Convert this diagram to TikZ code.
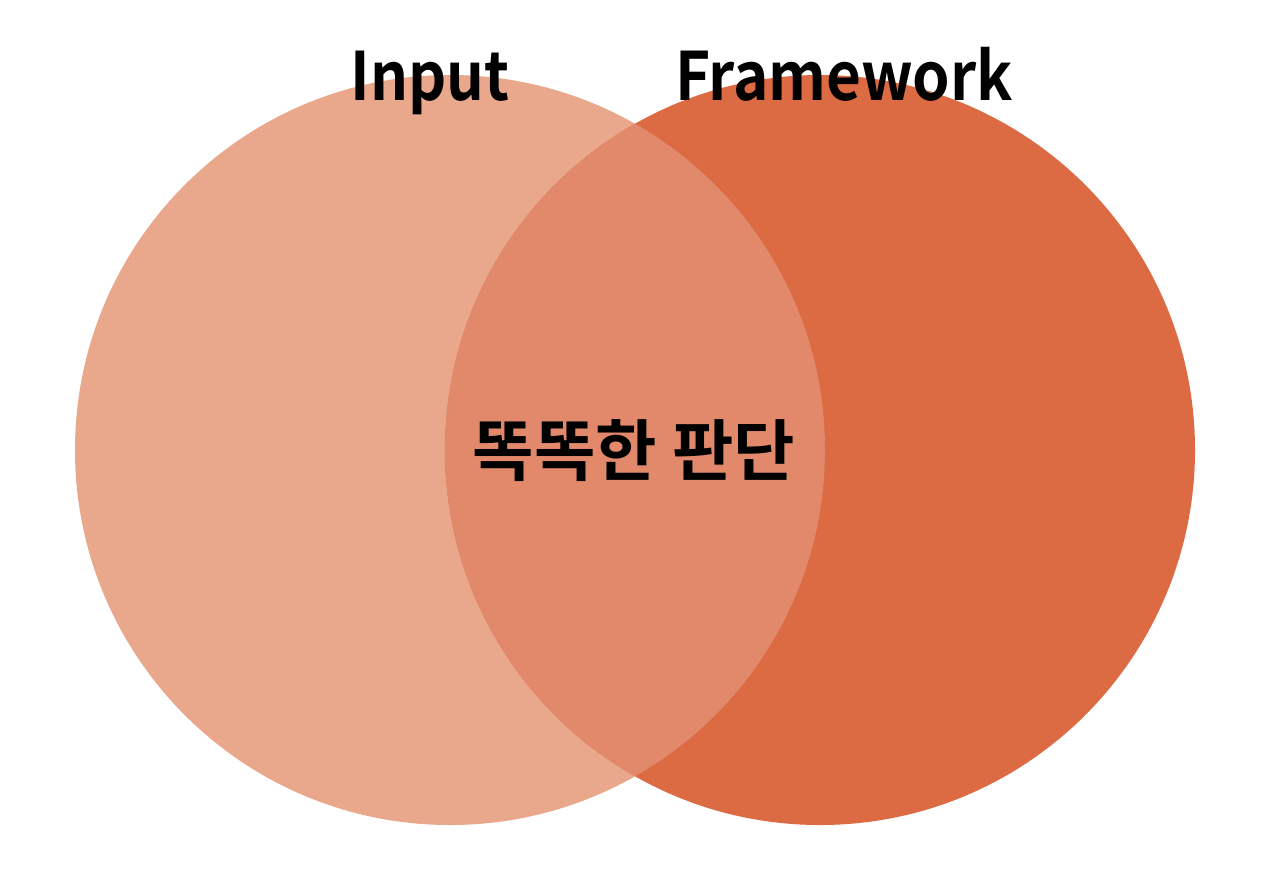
\documentclass[tikz,border=0pt]{standalone}
\usepackage{graphicx}
\usepackage{fontspec}
\setmainfont{Noto Sans CJK KR}[BoldFont={Noto Sans CJK KR Bold}]
\definecolor{leftc}{HTML}{E9A78C}
\definecolor{rightc}{HTML}{DC6A42}
\definecolor{midc}{HTML}{E1896A}
\tikzset{
  lbl/.style={font=\bfseries\fontsize{38}{40}\selectfont, text=black, inner sep=0pt},
  klbl/.style={font=\bfseries\fontsize{38}{42}\selectfont, text=black, inner sep=0pt}
}
\begin{document}
\begin{tikzpicture}[x=0.02cm,y=-0.02cm]
\useasboundingbox (0,0) rectangle (1280,877);
\fill[white] (0,0) rectangle (1280,877);
\fill[leftc] (450,450) circle (375);
\fill[rightc] (820,450) circle (375);
\begin{scope}
\clip (450,450) circle (375);
\fill[midc] (820,450) circle (375);
\end{scope}
\node[lbl, anchor=base] (input) at (430,100) {\scalebox{0.89}[1]{Input}};
\node[lbl, anchor=base] (fw) at (844,100) {\scalebox{0.9}[1]{Framework}};
\node[klbl] (mid) at (634,451) {똑똑한 판단};
\end{tikzpicture}
\end{document}
